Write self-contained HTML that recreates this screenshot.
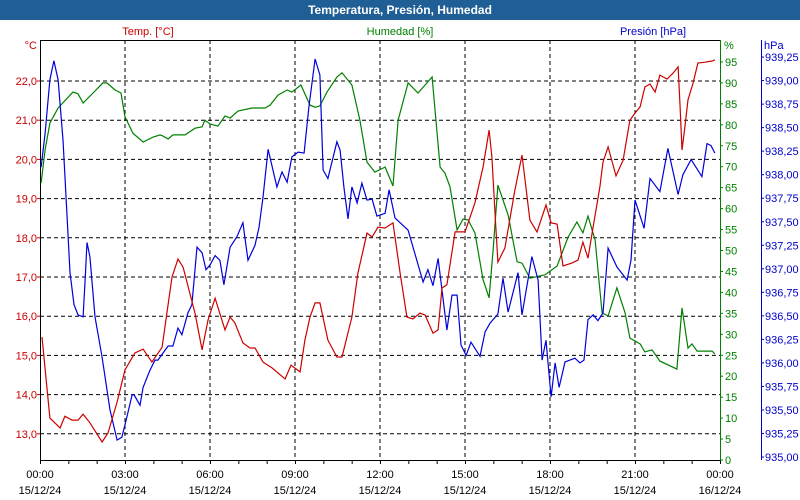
<!DOCTYPE html>
<html><head><meta charset="utf-8"><style>
body{margin:0;background:#fff;}
#wrap{position:relative;width:800px;height:500px;overflow:hidden;font-family:"Liberation Sans",sans-serif;}
#title{position:absolute;left:0;top:0;width:800px;height:20px;background:#1f5f96;color:#fff;font-weight:bold;font-size:12px;text-align:center;line-height:20px;}
svg{position:absolute;left:0;top:0;}
</style></head><body>
<div id="wrap">
<div id="title">Temperatura, Presión, Humedad</div>
<svg id="svg" width="800" height="500"></svg>
</div>
<script>
const tempH=[0.07,0.35,0.71,0.88,1.13,1.34,1.52,1.76,2.19,2.40,2.72,3.00,3.35,3.64,3.95,4.31,4.48,4.66,4.87,5.05,5.47,5.72,5.93,6.18,6.53,6.71,6.88,7.16,7.41,7.59,7.87,8.19,8.65,8.86,9.18,9.35,9.53,9.71,9.88,10.16,10.48,10.66,11.01,11.22,11.54,11.72,11.93,12.18,12.46,12.71,12.95,13.16,13.41,13.59,13.87,14.05,14.19,14.36,14.65,15.00,15.35,15.64,15.85,15.95,16.06,16.16,16.41,16.76,17.01,17.29,17.54,17.86,18.04,18.25,18.46,18.78,18.99,19.16,19.34,19.52,19.76,19.87,20.05,20.33,20.58,20.82,21.0,21.18,21.35,21.53,21.71,21.88,22.13,22.34,22.52,22.59,22.66,22.76,22.87,23.05,23.22,23.47,23.72,23.82];
const tempV=[15.47,13.40,13.15,13.45,13.35,13.35,13.50,13.28,12.79,13.02,13.81,14.63,15.06,15.16,14.83,15.21,16.08,17.0,17.46,17.25,16.08,15.14,15.90,16.46,15.65,15.98,15.83,15.32,15.19,15.19,14.83,14.68,14.40,14.75,14.58,15.39,15.98,16.34,16.34,15.39,14.96,14.96,15.98,17.10,18.12,18.02,18.27,18.25,18.38,17.10,15.98,15.93,16.08,16.03,15.57,15.65,16.72,16.80,18.15,18.15,18.89,19.81,20.75,20.06,18.63,17.38,17.74,19.22,20.11,18.45,18.15,18.84,18.38,18.35,17.28,17.36,17.43,17.89,17.48,18.27,19.30,19.93,20.32,19.58,19.98,21.0,21.18,21.34,21.85,21.92,21.72,22.15,22.05,22.20,22.36,21.34,20.24,20.83,21.52,21.95,22.46,22.48,22.51,22.54];
const humH=[0.04,0.18,0.35,0.64,1.16,1.34,1.52,1.87,2.22,2.36,2.65,2.86,3.0,3.28,3.64,4.0,4.24,4.34,4.52,4.69,5.12,5.47,5.72,5.82,6.0,6.28,6.53,6.71,6.99,7.48,7.94,8.12,8.40,8.72,8.89,9.21,9.53,9.71,9.88,10.13,10.48,10.66,11.01,11.29,11.54,11.82,12.18,12.46,12.64,12.99,13.34,13.59,13.84,14.12,14.29,14.47,14.72,14.93,15.11,15.35,15.64,15.85,15.99,16.16,16.52,16.84,17.01,17.29,17.82,18.25,18.64,18.95,19.16,19.34,19.59,19.84,20.05,20.36,20.65,20.82,21.18,21.35,21.60,21.88,22.48,22.66,22.87,23.01,23.19,23.72,23.82];
const humV=[66.1,74.0,80.4,84.0,87.8,87.4,85.2,87.6,90.0,90.0,88.3,87.6,81.9,78.0,75.9,77.1,77.6,77.3,76.6,77.6,77.6,79.2,79.5,81.1,80.2,79.7,82.1,81.6,83.3,84.0,84.0,84.7,87.1,88.3,87.8,89.5,84.7,84.2,84.5,87.8,91.4,92.4,89.5,81.1,71.1,68.7,69.9,65.4,81.1,90.0,87.6,89.5,91.4,69.9,68.5,65.2,54.9,57.5,57.3,54.2,43.0,38.7,50.1,65.6,58.5,47.3,47.0,43.4,44.2,46.3,53.2,56.8,54.2,58.2,52.5,35.1,34.4,41.1,35.1,29.1,27.7,25.8,26.3,23.6,21.7,36.3,26.7,27.7,26.0,26.0,25.3];
const presH=[0.04,0.18,0.35,0.49,0.64,0.81,0.95,1.06,1.20,1.34,1.52,1.59,1.66,1.76,1.94,2.19,2.47,2.72,2.89,3.07,3.25,3.32,3.53,3.64,3.88,4.06,4.16,4.52,4.69,4.87,5.01,5.22,5.36,5.54,5.72,5.86,6.0,6.18,6.35,6.49,6.71,6.95,7.16,7.34,7.59,7.73,7.87,8.05,8.36,8.54,8.72,8.89,9.11,9.32,9.49,9.71,9.88,9.99,10.16,10.48,10.59,10.73,10.87,11.01,11.19,11.36,11.54,11.72,11.89,12.18,12.32,12.53,12.99,13.52,13.69,13.87,14.05,14.36,14.54,14.72,14.86,15.04,15.21,15.53,15.71,15.88,16.16,16.34,16.52,16.87,17.01,17.36,17.58,17.72,17.86,18.04,18.18,18.32,18.53,18.88,19.06,19.20,19.34,19.52,19.69,19.87,20.05,20.36,20.72,20.86,21.0,21.32,21.53,21.88,22.16,22.52,22.69,22.98,23.36,23.54,23.68,23.82];
const presV=[938.08,938.44,939.01,939.21,939.01,938.37,937.59,936.96,936.62,936.51,936.49,936.88,937.28,937.13,936.49,936.06,935.50,935.18,935.21,935.43,935.66,935.66,935.55,935.74,935.92,936.03,936.03,936.18,936.18,936.37,936.30,936.53,936.62,937.23,937.17,936.99,937.04,937.14,937.09,936.83,937.23,937.34,937.49,937.09,937.25,937.44,937.76,938.27,937.87,938.03,937.92,938.19,938.24,938.23,938.72,939.23,939.06,938.05,937.96,938.35,938.26,937.86,937.53,937.87,937.70,937.91,937.73,937.74,937.56,937.59,937.84,937.54,937.41,936.86,936.99,936.82,937.11,936.35,936.72,936.72,936.19,936.08,936.22,936.07,936.33,936.42,936.52,936.90,936.54,936.96,936.51,937.13,936.88,936.03,936.24,935.64,936.0,935.74,936.01,936.05,936.0,936.03,936.46,936.51,936.45,936.53,937.22,937.02,936.88,937.09,937.73,937.43,937.96,937.82,938.28,937.79,938.0,938.16,937.98,938.33,938.31,938.23];
const tempTicks=[13,14,15,16,17,18,19,20,21,22];
const humTicks=[0,5,10,15,20,25,30,35,40,45,50,55,60,65,70,75,80,85,90,95];
const presTicks=[935,935.25,935.5,935.75,936,936.25,936.5,936.75,937,937.25,937.5,937.75,938,938.25,938.5,938.75,939,939.25];
const timeLabels=["00:00","03:00","06:00","09:00","12:00","15:00","18:00","21:00","00:00"];
const dateLabels=["15/12/24","15/12/24","15/12/24","15/12/24","15/12/24","15/12/24","15/12/24","15/12/24","16/12/24"];

const L=40,R=720,T=40,B=460;
const xS=h=>L+h*(R-L)/24;
const yT=v=>81+(22-v)*39.2;
const yH=v=>460-v*4.19;
const yP=v=>457-(v-935)*94.1;
const svg=document.getElementById('svg');
const NS='http://www.w3.org/2000/svg';
function mk(tag,attrs,parent){const e=document.createElementNS(NS,tag);for(const k in attrs)e.setAttribute(k,attrs[k]);(parent||svg).appendChild(e);return e;}
function txt(x,y,s,fill,anchor){const e=mk('text',{x:x,y:y,fill:fill,'font-size':11,'text-anchor':anchor||'start','font-family':'Liberation Sans, sans-serif'});e.textContent=s;return e;}
const fmt=(v,d)=>v.toFixed(d).replace('.',',');

// grid
tempTicks.forEach(v=>{const l=mk('line',{x1:L,x2:R,y1:yT(v),y2:yT(v),stroke:'#000','stroke-dasharray':'4,3'});

});
for(let i=1;i<8;i++){const l=mk('line',{x1:xS(i*3),x2:xS(i*3),y1:T,y2:B,stroke:'#000','stroke-dasharray':'4,3'});

}
// frame
mk('line',{x1:L,x2:R,y1:T+0.5,y2:T+0.5,stroke:'#000'});
mk('line',{x1:L,x2:R,y1:B+0.5,y2:B+0.5,stroke:'#000'});
mk('line',{x1:L+0.5,x2:L+0.5,y1:T,y2:B,stroke:'#000'});
mk('line',{x1:R+0.5,x2:R+0.5,y1:T,y2:B+1,stroke:'#008000'});
mk('line',{x1:761.5,x2:761.5,y1:T,y2:B,stroke:'#0000cc'});
// x ticks
for(let i=0;i<=24;i++){mk('line',{x1:xS(i)+0.5,x2:xS(i)+0.5,y1:B,y2:B+4,stroke:'#000'});}
timeLabels.forEach((s,i)=>{const t=txt(xS(i*3),478,s,'#000','middle');


const d=txt(xS(i*3),494,dateLabels[i],'#000','middle');

});
// left axis
tempTicks.forEach(v=>{mk('line',{x1:L-3,x2:L,y1:yT(v),y2:yT(v),stroke:'#c00'});const t=txt(37,yT(v)+4,fmt(v,1),'#cc0000','end');

});
txt(37,49,'°C','#cc0000','end');
humTicks.forEach(v=>{mk('line',{x1:R,x2:R+3,y1:yH(v),y2:yH(v),stroke:'#008000'});const t=txt(725,yH(v)+4,String(v),'#008000');

});
txt(724,49,'%','#008000');
presTicks.forEach(v=>{mk('line',{x1:761,x2:764,y1:yP(v),y2:yP(v),stroke:'#0000cc'});const t=txt(765,yP(v)+4,fmt(v,2),'#0000cc');

});
txt(764,49,'hPa','#0000cc');
// series titles
txt(148,35,'Temp. [°C]','#cc0000','middle');
txt(400,35,'Humedad [%]','#008000','middle');
txt(653,35,'Presión [hPa]','#0000cc','middle');
// series
function line(hs,vs,ys,color,name){const p=hs.map((h,i)=>xS(h).toFixed(1)+','+ys(vs[i]).toFixed(1)).join(' ');
const e=mk('polyline',{points:p,fill:'none',stroke:color,'stroke-width':1.2});

}
line(humH,humV,yH,'#008000','humidity-line');
line(presH,presV,yP,'#0000dd','pressure-line');
line(tempH,tempV,yT,'#cc0000','temperature-line');
</script>
</body></html>
